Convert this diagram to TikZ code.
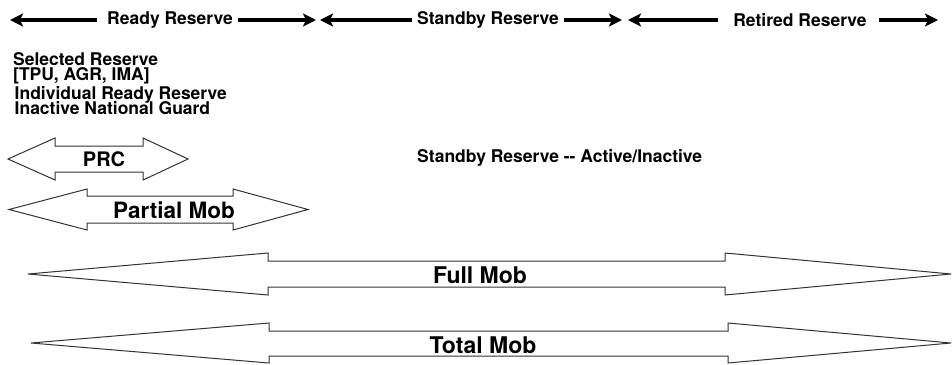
\documentclass[tikz,border=0pt]{standalone}
\usepackage{fontspec}
\setmainfont{TeX Gyre Heros}
\usetikzlibrary{arrows.meta,positioning}
\tikzstyle{band}=[inner sep=0,font=\fontsize{17.5}{15}\selectfont\bfseries]
\tikzstyle{span}=[line width=4.5pt,-{Stealth[length=13pt,width=13pt,inset=3pt]}]
\tikzstyle{mob}=[draw=black!80,line width=1pt,fill=white]
\tikzstyle{mob label}=[inner sep=0,font=\fontsize{23}{23}\selectfont\bfseries]
\begin{document}
\setlength{\lineskiplimit}{-20pt}
\begin{tikzpicture}[x=1pt,y=-1pt]
\useasboundingbox (0,0) rectangle (952,364);

\node (ready) [band] at (170,20) {Ready Reserve} ;
\node (standby) [band] at (488,20) {Standby Reserve} ;
\node (retired) [band] at (800,20) {Retired Reserve} ;
\coordinate (ready-w) at (10,20) ;
\coordinate (ready-e) at (316,20) ;
\coordinate (standby-w) at (320,20) ;
\coordinate (standby-e) at (622,20) ;
\coordinate (retired-w) at (628,20) ;
\coordinate (retired-e) at (938,20) ;

\draw [span,shorten <=10pt] (ready) -- (ready-w) ;
\draw [span,shorten <=5pt] (ready) -- (ready-e) ;
\draw [span,shorten <=5pt] (standby) -- (standby-w) ;
\draw [span,shorten <=5pt] (standby) -- (standby-e) ;
\draw [span,shorten <=15pt] (retired) -- (retired-w) ;
\draw [span,shorten <=12pt] (retired) -- (retired-e) ;

\node (ready-list) [band,align=left,anchor=north west] at (13,52) {Selected Reserve\\
  \relax[TPU, AGR, IMA]\\[4.5pt]
  \hspace*{1.5pt}Individual Ready Reserve\\
  \hspace*{1.5pt}Inactive National Guard} ;
\node (standby-note) [band,anchor=west] at (417,158) {Standby Reserve {-}{-} Active/Inactive} ;

% hollow double arrows
\draw [mob] (8,159) -- (55,138) -- (55,146) -- (143,146) -- (143,138) -- (188,159)
  -- (143,180) -- (143,172) -- (55,172) -- (55,180) -- cycle ;
\draw [mob] (9,209.5) -- (87,189) -- (87,196) -- (233,196) -- (233,189) -- (308,209.5)
  -- (233,230) -- (233,223) -- (87,223) -- (87,230) -- cycle ;
\draw [mob] (28,274) -- (268,253) -- (268,261) -- (725,261) -- (725,253) -- (951,274)
  -- (725,295) -- (725,287) -- (268,287) -- (268,295) -- cycle ;
\draw [mob] (31,343) -- (269,323) -- (269,331) -- (728,331) -- (728,323) -- (951,343)
  -- (728,363) -- (728,356) -- (269,356) -- (269,363) -- cycle ;

\node (prc) [mob label,font=\fontsize{20}{20}\selectfont\bfseries] at (104,159) {PRC} ;
\node (partial) [mob label,font=\fontsize{22.5}{22.5}\selectfont\bfseries] at (174,210) {Partial Mob} ;
\node (full) [mob label] at (480,275) {Full Mob} ;
\node (total) [mob label] at (483,345) {Total Mob} ;

\end{tikzpicture}
\end{document}
